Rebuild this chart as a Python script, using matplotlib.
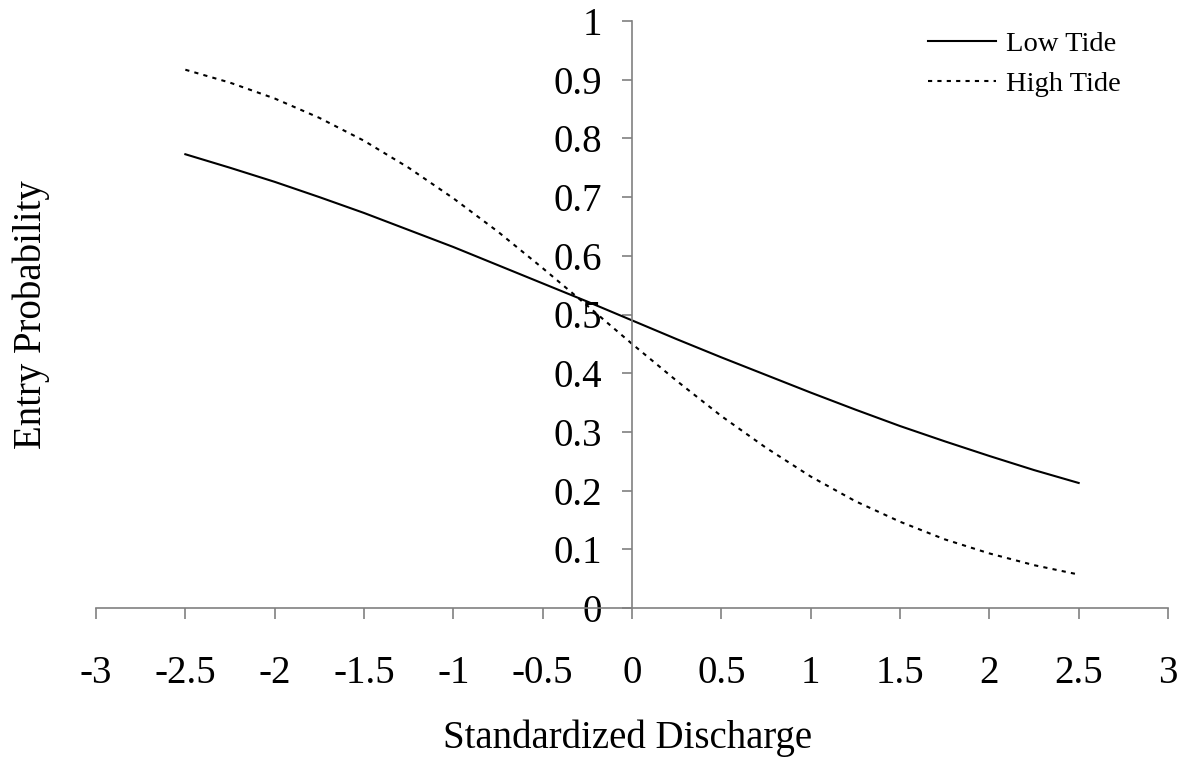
import matplotlib
matplotlib.use('Agg')
import matplotlib.pyplot as plt

plt.rcParams['font.family'] = ['Liberation Serif', 'DejaVu Serif']

# standardized discharge and the two fitted curves
discharge = [-2.5, -2.25, -2.0, -1.75, -1.5, -1.25, -1.0, -0.75, -0.5, -0.25,
             0.0, 0.25, 0.5, 0.75, 1.0, 1.25, 1.5, 1.75, 2.0, 2.25, 2.5]
low_tide = [0.773, 0.750, 0.726, 0.700, 0.673, 0.644, 0.615, 0.584, 0.553, 0.522,
            0.490, 0.458, 0.427, 0.397, 0.367, 0.338, 0.310, 0.284, 0.259, 0.235, 0.213]
high_tide = [0.917, 0.895, 0.868, 0.835, 0.796, 0.750, 0.698, 0.641, 0.579, 0.515,
             0.450, 0.387, 0.327, 0.273, 0.224, 0.182, 0.147, 0.117, 0.093, 0.073, 0.057]

xticks = [-3, -2.5, -2, -1.5, -1, -0.5, 0, 0.5, 1, 1.5, 2, 2.5, 3]
xticklabels = ['-3', '-2.5', '-2', '-1.5', '-1', '-0.5', '0', '0.5', '1', '1.5', '2', '2.5', '3']
yticks = [0, 0.1, 0.2, 0.3, 0.4, 0.5, 0.6, 0.7, 0.8, 0.9, 1]
yticklabels = ['0', '0.1', '0.2', '0.3', '0.4', '0.5', '0.6', '0.7', '0.8', '0.9', '1']

W, H = 1186, 759
fig = plt.figure(figsize=(W / 100, H / 100), dpi=100)
ax = fig.add_axes([96 / W, 1 - 608 / H, (1168 - 96) / W, (608 - 21) / H])

ax.plot(discharge, low_tide, color='black', lw=1.5, label='Low Tide')
ax.plot(discharge, high_tide, color='black', lw=1.5, linestyle=(0, (2, 2.5)),
        label='High Tide')

ax.set_xlim(-3, 3)
ax.set_ylim(0, 1)

axis_gray = '#808080'
for side in ['top', 'right']:
    ax.spines[side].set_visible(False)
ax.spines['left'].set_position(('data', 0))
ax.spines['bottom'].set_position(('data', 0))
for side in ['left', 'bottom']:
    ax.spines[side].set_color(axis_gray)
    ax.spines[side].set_linewidth(1.2)

ax.set_xticks(xticks)
ax.set_xticklabels(xticklabels)
ax.set_yticks(yticks)
ax.set_yticklabels(yticklabels)
ax.tick_params(axis='x', direction='out', length=8, width=1.2, color=axis_gray,
               labelsize=28, pad=26)
ax.tick_params(axis='y', direction='out', length=7.5, width=1.2, color=axis_gray,
               labelsize=28, pad=14)

fig.text(628 / W, 1 - 738 / H, 'Standardized Discharge', fontsize=28,
         ha='center', va='center')
fig.text(31 / W, 1 - 315 / H, 'Entry Probability', fontsize=28,
         ha='center', va='center', rotation=90)

ax.legend(loc='upper right', bbox_to_anchor=(1121 / W, 1 - 31 / H),
          bbox_transform=fig.transFigure, frameon=False, fontsize=20.5,
          handlelength=2.4, handletextpad=0.35, labelspacing=0.5,
          borderpad=0, borderaxespad=0)

fig.savefig('out.png', dpi=100)
